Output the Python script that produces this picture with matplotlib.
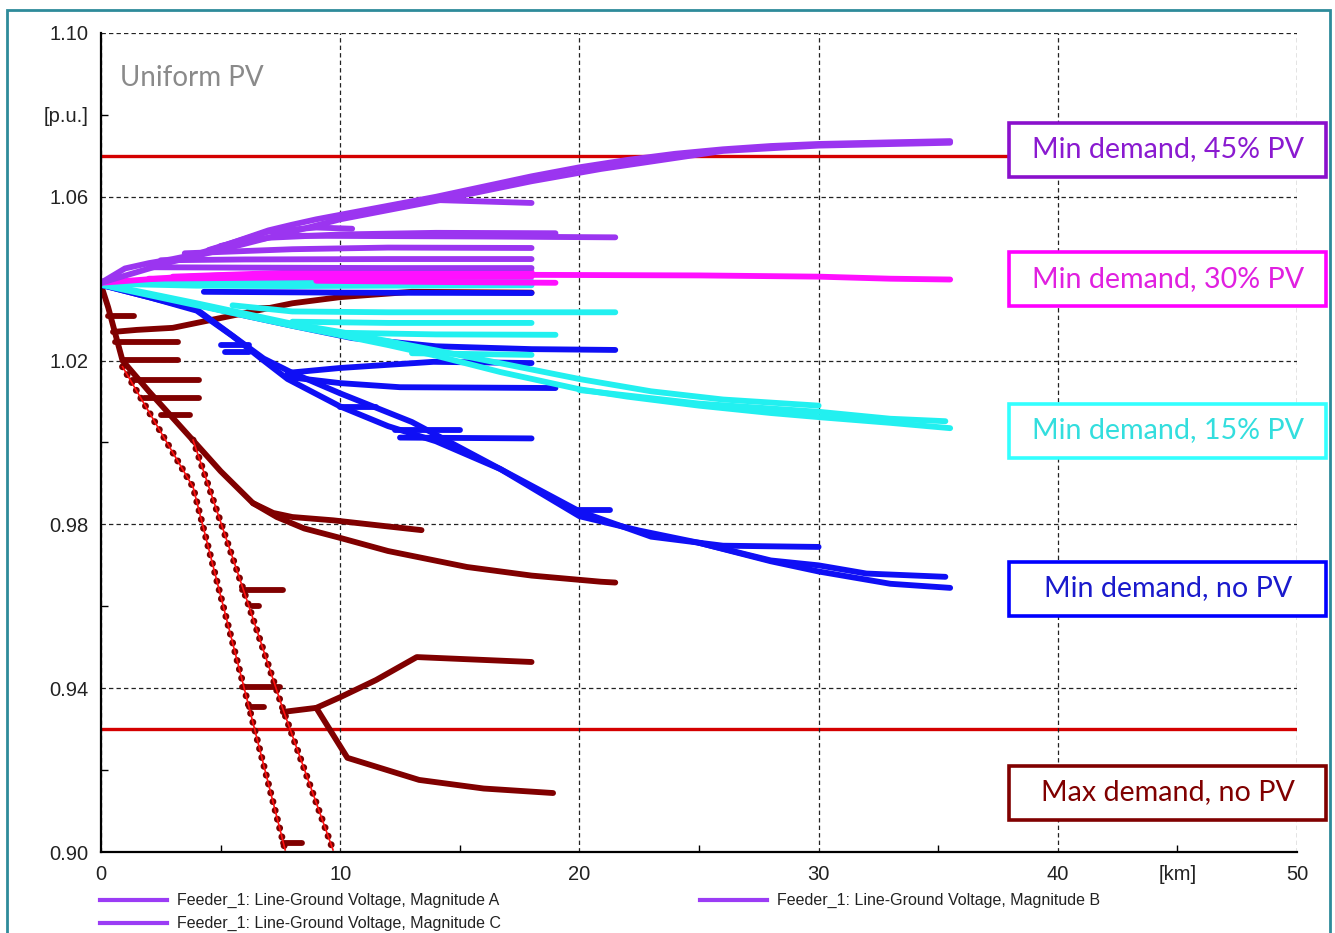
import matplotlib
matplotlib.use("Agg")
import matplotlib.pyplot as plt
from matplotlib.patches import Rectangle
from matplotlib.lines import Line2D

# --- data (km, p.u.) ---
pv45_lines = [
    ([0, 1, 2, 3, 4, 5, 6, 7, 8, 9, 10, 12, 14, 16, 18, 20, 22, 24, 26, 28, 30, 33, 35.5],
     [1.039, 1.0425, 1.0438, 1.0448, 1.046, 1.0478, 1.0498, 1.0518, 1.0532, 1.0545, 1.0556,
      1.0578, 1.0600, 1.0625, 1.0650, 1.0672, 1.0690, 1.0705, 1.0716, 1.0724, 1.0729, 1.0733, 1.0736]),
    ([0, 3, 5, 8, 10, 14, 18, 20.9, 26, 30, 35.5],
     [1.039, 1.0442, 1.047, 1.0515, 1.0545, 1.0590, 1.0638, 1.0668, 1.0712, 1.0725, 1.0732]),
    ([13.5, 18], [1.0593, 1.0585]),
    ([4.5, 7, 9, 10.5], [1.047, 1.0515, 1.0525, 1.0522]),
    ([5, 7, 10, 14, 19], [1.048, 1.0500, 1.0508, 1.0512, 1.0511]),
    ([8, 12, 16, 21.5], [1.0505, 1.0504, 1.0503, 1.0501]),
    ([3.5, 8, 12, 18], [1.0462, 1.0472, 1.0476, 1.0475]),
    ([2.5, 6, 12, 18], [1.0445, 1.0447, 1.0448, 1.0448]),
    ([2, 6, 12, 18], [1.0428, 1.0427, 1.0426, 1.0426]),
]

pv30_lines = [
    ([0, 3, 5, 10, 15, 20, 25, 30, 33, 35.5],
     [1.039, 1.0403, 1.0408, 1.0410, 1.0410, 1.0409, 1.0408, 1.0405, 1.0400, 1.0398]),
    ([3, 8, 18], [1.0405, 1.0415, 1.0417]),
    ([2, 10, 18], [1.0400, 1.0404, 1.0405]),
    ([9, 14, 19], [1.0395, 1.0392, 1.0390]),
]

pv15_lines = [
    ([0, 5, 10, 18], [1.039, 1.0392, 1.0393, 1.0393]),
    ([0, 4, 8, 12, 18], [1.0388, 1.0383, 1.0382, 1.0383, 1.0384]),
    ([0, 2, 4, 6, 8, 10, 12, 14, 16.7, 20, 22, 25, 28, 30, 33, 35.5],
     [1.0385, 1.036, 1.0335, 1.031, 1.0285, 1.0262, 1.0238, 1.0212, 1.0172, 1.0130,
      1.0112, 1.0090, 1.0072, 1.0062, 1.0048, 1.0035]),
    ([0, 4, 8, 10, 14, 17, 20, 23, 26, 30],
     [1.0388, 1.034, 1.029, 1.027, 1.0225, 1.019, 1.0155, 1.0125, 1.0105, 1.0090]),
    ([20, 25, 30, 33, 35.3], [1.0128, 1.0095, 1.0075, 1.0058, 1.0052]),
    ([5.5, 8, 12, 21.5], [1.0335, 1.0320, 1.0318, 1.0318]),
    ([8, 12, 18], [1.0295, 1.0292, 1.0292]),
    ([10, 14, 19], [1.0268, 1.0264, 1.0263]),
    ([13, 18], [1.0218, 1.0214]),
]

nopv_lines = [
    ([0, 2, 4, 5.5, 6.8, 7.8, 10, 12, 14, 16.7, 20, 22.5, 25, 28, 30, 33, 35.5],
     [1.0385, 1.0355, 1.0322, 1.026, 1.020, 1.0155, 1.0088, 1.004, 1.0003, 0.9935,
      0.9820, 0.9785, 0.9755, 0.9710, 0.9685, 0.9655, 0.9645]),
    ([0, 4, 6.8, 8, 10, 13, 16.7, 20, 23, 26, 30],
     [1.0385, 1.0325, 1.0205, 1.017, 1.0120, 1.005, 0.9935, 0.9832, 0.9770, 0.9748, 0.9745]),
    ([25, 28, 30, 32, 35.3], [0.9755, 0.9712, 0.9700, 0.9680, 0.9672]),
    ([0, 3, 6, 8, 10.5, 14, 18, 21.5], [1.0385, 1.035, 1.031, 1.0285, 1.0255, 1.0235, 1.0228, 1.0226]),
    ([4.3, 10, 18], [1.0368, 1.0366, 1.0365]),
    ([7.8, 10, 13.9, 18], [1.0170, 1.0182, 1.0197, 1.0194]),
    ([7.8, 10, 12.5, 16, 19], [1.0160, 1.0145, 1.0135, 1.0134, 1.0133]),
    ([12.3, 15], [1.0030, 1.0030]),
    ([12.5, 18], [1.0012, 1.0010]),
    ([5, 6.2], [1.0238, 1.0238]),
    ([5.2, 6.2], [1.0222, 1.0222]),
    ([10, 11.5], [1.0087, 1.0087]),
    ([20, 21.3], [0.9835, 0.9835]),
]

maxd_lines = [
    ([0, 0.3, 0.9, 2, 3.85, 5, 6.35, 7.35, 8.5, 10, 12, 15.3, 18, 20.9, 21.5],
     [1.0385, 1.033, 1.020, 1.0125, 1.0005, 0.993, 0.9852, 0.9818, 0.9790, 0.9767,
      0.9735, 0.9696, 0.9675, 0.9660, 0.9658]),
    ([6.35, 7.2, 8, 9.7, 12, 13.4], [0.9852, 0.9828, 0.9818, 0.9810, 0.9795, 0.9786]),
    ([0.5, 1.5, 3, 5.5, 8, 10, 13, 18], [1.027, 1.0275, 1.028, 1.031, 1.034, 1.0355, 1.0368, 1.0366]),
    ([0.3, 1.4], [1.0310, 1.0310]),
    ([0.6, 3.2], [1.0245, 1.0245]),
    ([0.9, 3.2], [1.0202, 1.0202]),
    ([1.3, 4.1], [1.0153, 1.0153]),
    ([1.8, 4.1], [1.0109, 1.0109]),
    ([2.5, 3.7], [1.0067, 1.0067]),
    ([6.2, 7.2], [1.0329, 1.0329]),
    ([7.6, 9, 10, 11.5, 13.2, 18], [0.9342, 0.9352, 0.9378, 0.9420, 0.9476, 0.9464]),
    ([9, 10.3, 13.3, 16, 18.9], [0.9352, 0.9230, 0.9176, 0.9155, 0.9144]),
    ([5.9, 7.5], [0.9403, 0.9403]),
    ([6.2, 6.8], [0.9354, 0.9354]),
    ([6.3, 6.6], [0.9600, 0.9600]),
    ([5.9, 7.6], [0.9640, 0.9640]),
    ([7.6, 8.4], [0.9022, 0.9022]),
]

# steep dotted branches of max demand case
maxd_dotted = [
    ([0.9, 2, 3.85, 5, 6.3, 7.7], [1.0185, 1.0075, 0.9891, 0.9626, 0.9328, 0.9005]),
    ([3.85, 6.1, 7.6, 9.7], [1.0006, 0.9615, 0.9350, 0.9005]),
]

limits = [1.07, 0.93]

scenario_labels = ["Min demand, 45% PV", "Min demand, 30% PV", "Min demand, 15% PV",
                   "Min demand, no PV", "Max demand, no PV"]
label_centers_y = [149.5, 279, 430.5, 588.5, 792.5]  # pixel rows of the label boxes
label_edge = ["#8a10cc", "#ff00ff", "#33ffff", "#0000ff", "#800000"]
label_text = ["#8a1ad0", "#e020e0", "#33dede", "#1a1acc", "#800000"]

legend_labels = ["Feeder_1: Line-Ground Voltage, Magnitude A",
                 "Feeder_1: Line-Ground Voltage, Magnitude B",
                 "Feeder_1: Line-Ground Voltage, Magnitude C"]

W, H = 1335, 933
fig = plt.figure(figsize=(W / 100, H / 100), dpi=100)
ax = fig.add_axes([101 / W, 1 - 852 / H, (1297 - 101) / W, (852 - 33) / H])

lw = 4.2
for xs, ys in maxd_lines:
    ax.plot(xs, ys, color="#800000", lw=lw, solid_capstyle="round")
for xs, ys in maxd_dotted:
    ax.plot(xs, ys, color="#7a0000", lw=5, linestyle=(0, (0.01, 1.3)), dash_capstyle="round")
    ax.plot(xs, ys, color="#ff1010", lw=1.2)
for xs, ys in nopv_lines:
    ax.plot(xs, ys, color="#0f0ff5", lw=lw, solid_capstyle="round")
for xs, ys in pv15_lines:
    ax.plot(xs, ys, color="#22f0f0", lw=lw, solid_capstyle="round")
for xs, ys in pv30_lines:
    ax.plot(xs, ys, color="#ff10ff", lw=lw, solid_capstyle="round")
for xs, ys in pv45_lines:
    ax.plot(xs, ys, color="#9b35f0", lw=lw, solid_capstyle="round")

for lim in limits:
    ax.axhline(lim, color="#d40000", lw=2.4, zorder=1.5)

ax.set_xlim(0, 50)
ax.set_ylim(0.90, 1.10)
ax.set_xticks([0, 10, 20, 30, 40, 50])
ax.set_xticks([5, 15, 25, 35, 45], minor=True)
ax.set_xticklabels(["0", "10", "20", "30", "40", "50"])
ax.set_xticklabels(["", "", "", "", "[km]"], minor=True)
ax.set_yticks([0.90, 0.94, 0.98, 1.02, 1.06, 1.10])
ax.set_yticklabels(["0.90", "0.94", "0.98", "1.02", "1.06", "1.10"])
ax.set_yticks([0.92, 0.96, 1.00, 1.04, 1.08], minor=True)
ax.set_yticklabels(["", "", "", "", "[p.u.]"], minor=True)
ax.tick_params(which="both", labelsize=14.5, colors="black", labelcolor="#222222")
ax.tick_params(which="major", length=0, pad=9)
ax.tick_params(which="minor", direction="in", length=5, width=1, pad=9)
for lab in ax.get_xticklabels() + ax.get_yticklabels() + \
        ax.get_xticklabels(minor=True) + ax.get_yticklabels(minor=True):
    lab.set_family("Liberation Sans")

ax.grid(True, which="major", color="#222222", linestyle=(0, (3.5, 2.5)), lw=0.9)
ax.spines["top"].set_visible(False)
ax.spines["right"].set_visible(False)
ax.spines["left"].set_linewidth(1.6)
ax.spines["bottom"].set_linewidth(1.6)

ax.text(0.8, 1.089, "Uniform PV", color="#8a8a8a", fontsize=20, family="Lato", va="center")

# scenario label boxes
for lab, cy, ec, tc in zip(scenario_labels, label_centers_y, label_edge, label_text):
    fy = 1 - cy / H
    bh = 54 / H
    fig.add_artist(Rectangle((1009 / W, fy - bh / 2), (1326 - 1009) / W, bh,
                             transform=fig.transFigure, facecolor="white",
                             edgecolor=ec, lw=2.6, zorder=5))
    fig.text(1168 / W, fy, lab, color=tc, fontsize=20.6, family="Lato",
             ha="center", va="center", zorder=6)

# legend drawn like the original (A, B on first row; C below)
leg_pos = [(100, 900), (700, 900), (100, 923)]
for (px, py), lab in zip(leg_pos, legend_labels):
    fy = 1 - py / H
    fig.add_artist(Line2D([px / W, (px + 67) / W], [fy, fy], color="#9b3cf5",
                          lw=3, transform=fig.transFigure))
    fig.text((px + 77) / W, fy, lab, fontsize=11.5, family="Liberation Sans",
             color="#222222", va="center")

# outer frame
fig.add_artist(Rectangle((7 / W, -0.02), (1330 - 7) / W, 1 - 10 / H + 0.02,
                         transform=fig.transFigure, fill=False,
                         edgecolor="#2e8b9a", lw=2, zorder=10))

fig.savefig("out.png", dpi=100, facecolor="white")
